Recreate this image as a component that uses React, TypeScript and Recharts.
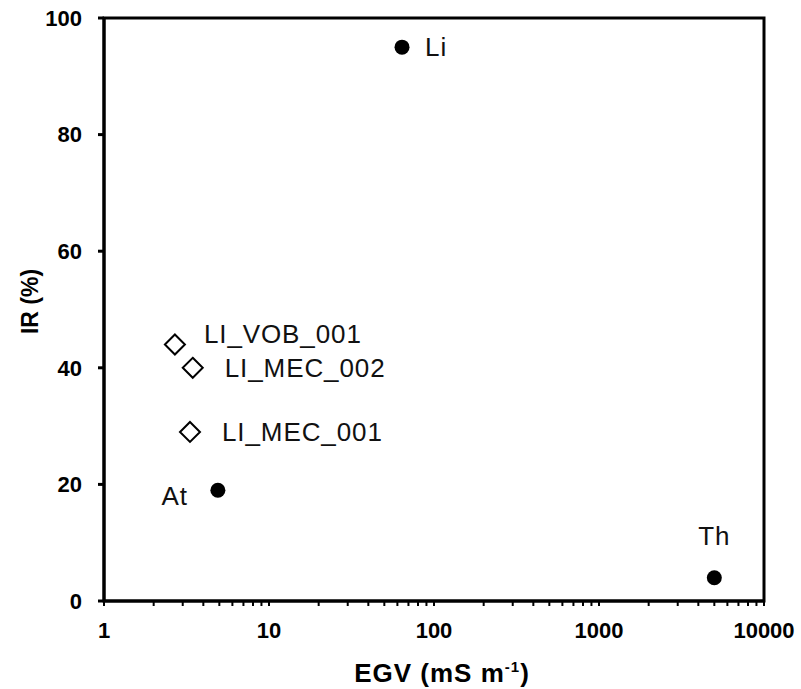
import { ScatterChart, Scatter, XAxis, YAxis, ReferenceArea, Label } from "recharts";

// reference sites (filled circles)
const refNames = ["Li", "At", "Th"];
const refEgv = [64, 4.9, 5000];
const refIr = [95, 19, 4];
const refPlacement = ["right", "left", "top"];

// samples (open diamonds)
const sampleNames = ["LI_VOB_001", "LI_MEC_002", "LI_MEC_001"];
const sampleEgv = [2.69, 3.45, 3.32];
const sampleIr = [44, 40, 29];
const samplePlacement = ["upperRight", "right", "right"];

const decades = [1, 10, 100, 1000];
const minorSteps = [1, 2, 3, 4, 5, 6, 7, 8, 9];
const xTicks = [...decades.flatMap((d) => minorSteps.map((m) => d * m)), 10000];
const xTickLabels = [1, 10, 100, 1000, 10000];
const yTicks = [0, 20, 40, 60, 80, 100];

const FONT = "'Liberation Sans', Arial, sans-serif";
const INK = "#000";
const TICK = { fontSize: 22, fontWeight: 700, fill: INK, fontFamily: FONT };

const refData = refNames.map((name, i) => ({ name, egv: refEgv[i], ir: refIr[i], place: refPlacement[i] }));
const sampleData = sampleNames.map((name, i) => ({
  name,
  egv: sampleEgv[i],
  ir: sampleIr[i],
  place: samplePlacement[i],
}));

function PointLabel({ cx, cy, name, place, gap }: { cx: number; cy: number; name: string; place: string; gap: number }) {
  const common = { fontSize: 26, letterSpacing: 0.9, fill: "#111", fontFamily: FONT };
  if (place === "left")
    return (
      <text x={cx - gap} y={cy + 6} dy="0.35em" textAnchor="end" {...common}>
        {name}
      </text>
    );
  if (place === "top")
    return (
      <text x={cx} y={cy - 33} textAnchor="middle" {...common}>
        {name}
      </text>
    );
  if (place === "upperRight")
    return (
      <text x={cx + gap - 3} y={cy - 11} dy="0.35em" textAnchor="start" {...common}>
        {name}
      </text>
    );
  return (
    <text x={cx + gap} y={cy} dy="0.35em" textAnchor="start" {...common}>
      {name}
    </text>
  );
}

function CircleShape(props: any) {
  const { cx, cy, payload } = props;
  return (
    <g>
      <circle cx={cx} cy={cy} r={7.5} fill={INK} />
      <PointLabel cx={cx} cy={cy} name={payload.name} place={payload.place} gap={payload.place === "left" ? 30 : 23} />
    </g>
  );
}

function DiamondShape(props: any) {
  const { cx, cy, payload } = props;
  const h = 10;
  return (
    <g>
      <path
        d={`M${cx},${cy - h}L${cx + h},${cy}L${cx},${cy + h}L${cx - h},${cy}Z`}
        fill="#fff"
        stroke={INK}
        strokeWidth={2}
      />
      <PointLabel cx={cx} cy={cy} name={payload.name} place={payload.place} gap={32} />
    </g>
  );
}

function XTick(props: any) {
  const { x, y, payload } = props;
  if (!xTickLabels.includes(payload.value)) return null;
  return (
    <text x={x} y={y} dy="0.71em" textAnchor="middle" {...TICK}>
      {payload.value}
    </text>
  );
}

export default function App() {
  return (
    <div style={{ position: "absolute", left: 0, top: 0, background: "#fff" }}>
      <ScatterChart width={801} height={689} margin={{ top: 18, right: 37, left: 0, bottom: 0 }}>
        <XAxis
          type="number"
          dataKey="egv"
          scale="log"
          domain={[1, 10000]}
          ticks={xTicks}
          interval={0}
          tick={<XTick />}
          tickSize={5}
          tickMargin={16}
          tickLine={{ stroke: INK, strokeWidth: 2 }}
          axisLine={{ stroke: INK, strokeWidth: 3 }}
          height={88}
          allowDataOverflow
        >
          <Label
            content={({ viewBox }: any) => (
              <text
                x={viewBox.x + viewBox.width / 2 + 8}
                y={viewBox.y + 81}
                textAnchor="middle"
                fontSize={26}
                letterSpacing={1}
                fontWeight={700}
                fill={INK}
                fontFamily={FONT}
              >
                EGV (mS m
                <tspan fontSize={15} dy={-10}>
                  -1
                </tspan>
                <tspan dy={10}>)</tspan>
              </text>
            )}
          />
        </XAxis>
        <YAxis
          type="number"
          dataKey="ir"
          domain={[0, 100]}
          ticks={yTicks}
          interval={0}
          tick={TICK}
          tickSize={6}
          tickMargin={16}
          tickLine={{ stroke: INK, strokeWidth: 3 }}
          axisLine={{ stroke: INK, strokeWidth: 3 }}
          width={104}
        >
          <Label
            content={({ viewBox }: any) => {
              const x = viewBox.x + 38;
              const y = viewBox.y + viewBox.height / 2 - 8;
              return (
                <text
                  x={x}
                  y={y}
                  transform={`rotate(-90, ${x}, ${y})`}
                  textAnchor="middle"
                  fontSize={23}
                  fontWeight={700}
                  fill={INK}
                  fontFamily={FONT}
                >
                  IR (%)
                </text>
              );
            }}
          />
        </YAxis>
        <ReferenceArea x1={1} x2={10000} y1={0} y2={100} fill="none" stroke={INK} strokeWidth={3} ifOverflow="visible" />
        <Scatter data={refData} shape={CircleShape} isAnimationActive={false} />
        <Scatter data={sampleData} shape={DiamondShape} isAnimationActive={false} />
      </ScatterChart>
    </div>
  );
}
